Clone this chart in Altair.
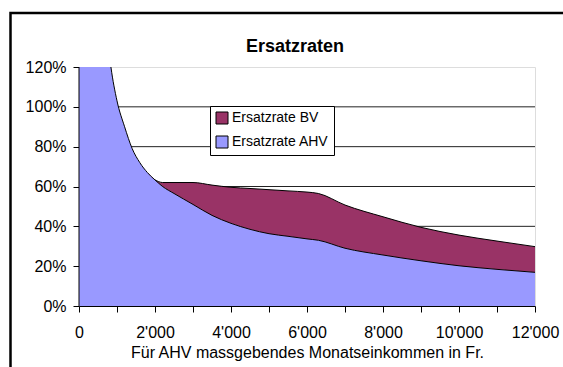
import altair as alt
import pandas as pd

# ---- data ----
income = [0, 500, 700, 840, 1000, 1200, 1400, 1600, 1800, 2000, 2200, 2500, 3000,
          3500, 4000, 4500, 5000, 5500, 6000, 6300, 7000, 8000, 9000, 10000, 11000, 12000]
rate_ahv = [3.0, 2.0, 1.43, 1.20, 1.03, 0.90, 0.79, 0.72, 0.67, 0.633, 0.60, 0.565, 0.51,
            0.455, 0.415, 0.385, 0.363, 0.35, 0.337, 0.33, 0.29, 0.256, 0.227, 0.202, 0.184, 0.169]
rate_bv = [0, 0, 0, 0, 0, 0, 0, 0, 0, 0, 0.02, 0.055, 0.11,
           0.152, 0.181, 0.205, 0.221, 0.228, 0.235, 0.235, 0.217, 0.192, 0.168, 0.154, 0.142, 0.129]

series_names = ["Ersatzrate BV", "Ersatzrate AHV"]
series_colors = ["#993366", "#9999FF"]
y_ticks = [0, 0.2, 0.4, 0.6, 0.8, 1.0, 1.2]
x_ticks = [0, 1000, 2000, 3000, 4000, 5000, 6000, 7000, 8000, 9000, 10000, 11000, 12000]
title_text = "Ersatzraten"
x_title = "Für AHV massgebendes Monatseinkommen in Fr."

rows = []
for x, a, b in zip(income, rate_ahv, rate_bv):
    rows.append({"income": x, "series": "Ersatzrate AHV", "lo": 0.0, "hi": a})
    rows.append({"income": x, "series": "Ersatzrate BV", "lo": a, "hi": a + b})
df = pd.DataFrame(rows)
grid_df = pd.DataFrame({"g": y_ticks[1:-1]})

FONT = "Liberation Sans"
W, H = 456, 239

xs = alt.Scale(domain=[0, 12000], nice=False, zero=False)
ys = alt.Scale(domain=[0, 1.2], nice=False)

# horizontal gridlines (drawn beneath the areas)
grid = alt.Chart(grid_df).mark_rule(color="#222222", strokeWidth=1).encode(
    y=alt.Y("g:Q", scale=ys,
            axis=alt.Axis(values=y_ticks, tickCount=len(y_ticks), format=".0%", title=None,
                          grid=False, domain=False, labelFontSize=16, labelFont=FONT,
                          labelColor="black", tickColor="black", tickSize=6,
                          labelPadding=7, labelOverlap=False, labelFlush=False)),
)

base = alt.Chart(df)

areas = base.mark_area(clip=True, interpolate="monotone").encode(
    x=alt.X("income:Q", scale=xs,
            axis=alt.Axis(values=x_ticks, tickCount=len(x_ticks), grid=False, title=x_title,
                          labelExpr="datum.value % 2000 == 0 ? replace(format(datum.value, ','), ',', \"'\") : ''",
                          labelFontSize=16, titleFontSize=16, titleFontWeight="normal",
                          labelFont=FONT, titleFont=FONT, labelColor="black", titleColor="black",
                          domainColor="black", tickColor="black", tickSize=6, labelPadding=12,
                          titlePadding=4, zindex=1, labelFlush=False, labelOverlap=False)),
    y=alt.Y("hi:Q", scale=ys, stack=None),
    y2="lo:Q",
    color=alt.Color("series:N",
                    scale=alt.Scale(domain=series_names, range=series_colors),
                    legend=alt.Legend(title=None, orient="none", legendX=131, legendY=39,
                                      fillColor="white", strokeColor="black", padding=5,
                                      symbolType="square", symbolSize=144,
                                      symbolStrokeColor="black", symbolStrokeWidth=1,
                                      symbolOpacity=1,
                                      labelFontSize=14, labelFont=FONT, labelColor="black",
                                      rowPadding=8, labelOffset=3)),
)

lines = base.transform_filter(
    "datum.series == 'Ersatzrate AHV' || datum.income >= 2000"
).mark_line(clip=True, interpolate="monotone", color="black", strokeWidth=1).encode(
    x=alt.X("income:Q", scale=xs),
    y=alt.Y("hi:Q", scale=ys),
    detail="series:N",
)

one = pd.DataFrame({"v": [0], "t": [title_text]})

left_axis = alt.Chart(one).mark_rule(color="black", strokeWidth=1).encode(
    x=alt.X("v:Q", scale=xs),
)

title = alt.Chart(one).mark_text(
    font=FONT, fontSize=18, fontWeight="bold", color="black",
    align="center", baseline="alphabetic"
).encode(
    x=alt.value(W / 2 - 12), y=alt.value(-15), text="t:N"
)

frame = alt.Chart(one).mark_rect(
    filled=False, stroke="black", strokeWidth=2.5
).encode(
    x=alt.value(-68.5), x2=alt.value(600), y=alt.value(-54), y2=alt.value(400)
)

chart = alt.layer(grid, areas, lines, left_axis, title, frame).properties(
    width=W, height=H,
    padding={"left": 79, "top": 67, "right": 28, "bottom": 61},
    autosize=alt.AutoSizeParams(type="none"),
).configure_view(stroke="#808080", strokeWidth=1).configure(background="white")

chart.save("out.html", embed_options={"renderer": "svg", "actions": False})
